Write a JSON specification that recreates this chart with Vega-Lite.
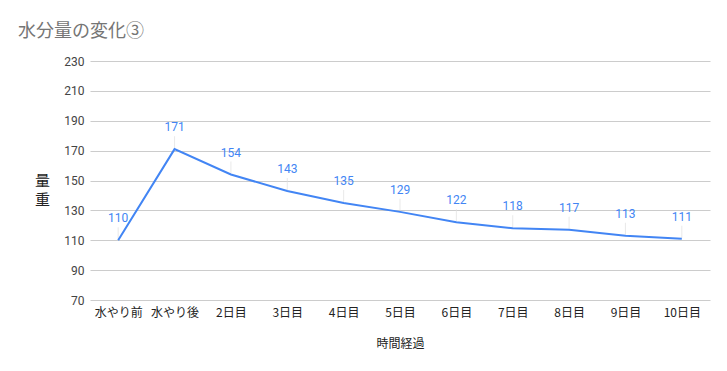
{
  "$schema": "https://vega.github.io/schema/vega-lite/v6.json",
  "autosize": "none",
  "width": 620,
  "height": 239,
  "padding": {"left": 90, "top": 61, "right": 17, "bottom": 71},
  "background": "white",
  "title": {
    "text": "水分量の変化③",
    "anchor": "start",
    "frame": "group",
    "dx": -72,
    "offset": 14,
    "fontSize": 18,
    "font": "Noto Sans CJK JP",
    "fontWeight": "normal",
    "color": "#757575"
  },
  "data": {
    "values": [
      {"t": "水やり前", "v": 110},
      {"t": "水やり後", "v": 171},
      {"t": "2日目", "v": 154},
      {"t": "3日目", "v": 143},
      {"t": "4日目", "v": 135},
      {"t": "5日目", "v": 129},
      {"t": "6日目", "v": 122},
      {"t": "7日目", "v": 118},
      {"t": "8日目", "v": 117},
      {"t": "9日目", "v": 113},
      {"t": "10日目", "v": 111}
    ]
  },
  "encoding": {
    "x": {
      "field": "t",
      "type": "ordinal",
      "sort": null,
      "scale": {"type": "point", "padding": 0.5},
      "axis": {
        "title": "時間経過",
        "labelAngle": 0,
        "domain": false,
        "ticks": false,
        "labelPadding": 7,
        "labelFont": "Noto Sans CJK JP",
        "labelFontSize": 12,
        "labelColor": "#222222",
        "titleFont": "Noto Sans CJK JP",
        "titleFontSize": 12,
        "titleFontWeight": "normal",
        "titleColor": "#222222",
        "titlePadding": 20
      }
    },
    "y": {
      "field": "v",
      "type": "quantitative",
      "scale": {"domain": [70, 230], "nice": false, "zero": false},
      "axis": {
        "values": [70, 90, 110, 130, 150, 170, 190, 210, 230],
        "title": ["量", "重"],
        "titleAngle": 0,
        "titleX": -48,
        "titleY": 119,
        "titleAlign": "center",
        "titleBaseline": "middle",
        "titleFont": "Noto Sans CJK JP",
        "titleFontSize": 15,
        "titleFontWeight": "normal",
        "titleColor": "#222222",
        "titleLineHeight": 19,
        "domain": false,
        "ticks": false,
        "labelPadding": 6,
        "labelFont": "Roboto",
        "labelFontSize": 12,
        "labelColor": "#444444",
        "gridColor": "#cccccc"
      }
    }
  },
  "layer": [
    {
      "mark": {"type": "tick", "orient": "vertical", "size": 12, "thickness": 1, "color": "#e0e0e0", "yOffset": -7}
    },
    {
      "mark": {"type": "line", "color": "#4285F4", "strokeWidth": 2}
    },
    {
      "mark": {"type": "text", "color": "#4285F4", "font": "Roboto", "fontSize": 12, "baseline": "bottom", "dy": -15},
      "encoding": {"text": {"field": "v", "type": "quantitative"}}
    }
  ],
  "config": {"view": {"stroke": null}}
}
